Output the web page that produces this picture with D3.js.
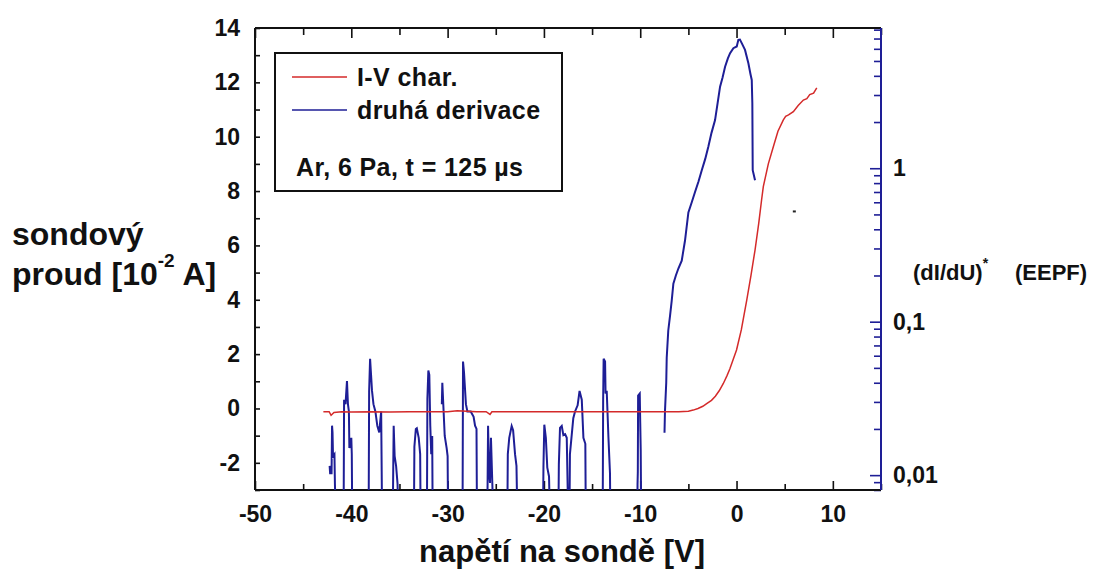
<!DOCTYPE html>
<html>
<head>
<meta charset="utf-8">
<script src="https://cdn.jsdelivr.net/npm/d3@7/dist/d3.min.js"></script>
<style>
  body { margin: 0; background: #fff; }
  text { font-family: "Liberation Sans", Arial, sans-serif; font-weight: bold; fill: #111; }
</style>
</head>
<body>
<svg id="chart"></svg>
<script>
// axis ticks
const voltageTicks = [-50, -40, -30, -20, -10, 0, 10];
const voltageMinorTicks = [-45, -35, -25, -15, -5, 5, 15];
const currentTicks = [-2, 0, 2, 4, 6, 8, 10, 12, 14];
const currentMinorTicks = [-3, -1, 1, 3, 5, 7, 9, 11, 13];
const eepfTicks = [0.01, 0.1, 1];
const eepfTickLabels = ["0,01", "0,1", "1"];
const eepfMinorTicks = [0.008, 0.009, 0.02, 0.03, 0.04, 0.05, 0.06, 0.07, 0.08, 0.09,
  0.2, 0.3, 0.4, 0.5, 0.6, 0.7, 0.8, 0.9, 2, 3, 4, 5, 6, 7, 8];

// I-V characteristic (left axis, 10^-2 A)
const ivVoltage = [-42.9, -42.3, -42.1, -41.8, -41, -40, -38, -36, -34, -32, -30, -29, -28, -27,
  -26, -25.6, -25.4, -24, -20, -15, -10, -6, -5, -4.5, -4, -3.5, -3.1, -2.6, -2.2, -1.8, -1.37,
  -1, -0.7, -0.35, 0, 0.5, 1.06, 1.5, 1.92, 2.3, 2.6, 2.78, 3.3, 3.82, 4.3, 4.86, 5.1, 5.4, 5.9,
  6.4, 6.94, 7.3, 7.6, 8.0, 8.33];
const ivCurrent = [-0.12, -0.12, -0.25, -0.15, -0.12, -0.13, -0.12, -0.13, -0.12, -0.12, -0.12,
  -0.08, -0.1, -0.12, -0.12, -0.22, -0.12, -0.12, -0.12, -0.12, -0.12, -0.12, -0.1, -0.06, 0.0,
  0.08, 0.18, 0.3, 0.45, 0.65, 0.92, 1.2, 1.45, 1.8, 2.15, 2.9, 3.99, 4.9, 5.83, 6.8, 7.67, 8.16,
  9.0, 9.63, 10.2, 10.62, 10.75, 10.8, 10.92, 11.15, 11.35, 11.4, 11.55, 11.6, 11.8];

// second derivative (right axis, log); null = gap, 0.005 = below the axis
const eepfVoltage = [-42.25, -42.2, -42.05, -42.0, -41.95, -41.9, -41.75, -41.7, -41.6,
  -40.8, -40.75, -40.6, -40.45, -40.35, -40.25, -40.2, -40.0, -39.95, -39.9,
  -38.2, -38.15, -38.05, -37.95, -37.85, -37.7, -37.5, -37.3, -37.1, -36.9, -36.8,
  -35.7, -35.6, -35.5, -35.35, -35.2, -35.1,
  -33.5, -33.45, -33.3, -33.2, -33.0, -32.85, -32.8,
  -32.15, -32.1, -32.0, -31.9, -31.8, -31.7, -31.6, -31.55, -31.0,
  -30.6, -30.55, -30.45, -30.3, -30.1, -30.0, -29.95,
  -28.45, -28.4, -28.3, -28.1, -27.95, -27.6, -27.3, -27.15, -27.0, -26.95,
  -25.9, -25.85, -25.8, -25.7, -25.6, -25.5, -25.35, -25.25,
  -23.8, -23.75, -23.6, -23.35, -23.2, -23.0, -22.85, -22.75,
  -20.1, -20.05, -19.96, -19.8, -19.65, -19.47, -19.37,
  -18.5, -18.45, -18.33, -18.15, -17.98, -17.8, -17.63, -17.47,
  -17.35, -17.3, -16.95, -16.77, -16.5, -16.3, -16.07, -15.9, -15.7, -15.65,
  -13.9, -13.85, -13.8, -13.65, -13.6, -13.48, -13.3, -13.14, -13.1,
  -10.3, -10.28, -10.25, -10.22, -10.05, -10.0, -9.95, -9.9, -8.5,
  -7.48, -7.43, -7.3, -7.25, -7.09, -6.9, -6.73, -6.56, -6.3, -6.04, -5.69, -5.35, -5.0,
  -4.65, -4.31, -3.95, -3.61, -3.25, -2.93, -2.6, -2.23, -1.95, -1.71, -1.45, -1.19, -0.9,
  -0.67, -0.33, 0.02, 0.19, 0.35, 0.54, 0.88, 1.23, 1.45, 1.58, 1.64, 1.68, 1.92];
const eepfValue = [0.0115, 0.0103, 0.0103, 0.021, 0.019, 0.0133, 0.0137, 0.0087, 0.005,
  0.005, 0.031, 0.029, 0.041, 0.029, 0.026, 0.015, 0.0175, 0.0137, 0.005,
  0.005, 0.035, 0.0573, 0.045, 0.0354, 0.029, 0.026, 0.021, 0.019, 0.026, 0.005,
  0.005, 0.021, 0.0133, 0.0115, 0.0088, 0.005,
  0.005, 0.0153, 0.020, 0.0202, 0.0175, 0.0137, 0.005,
  0.005, 0.0314, 0.048, 0.045, 0.021, 0.0137, 0.018, 0.005, null,
  0.029, 0.040, 0.029, 0.018, 0.015, 0.0133, 0.005,
  0.005, 0.055, 0.047, 0.029, 0.026, 0.026, 0.024, 0.021, 0.02, 0.005,
  0.005, 0.0087, 0.021, 0.0105, 0.0089, 0.0175, 0.0085, 0.005,
  0.005, 0.0137, 0.0175, 0.0209, 0.0196, 0.0137, 0.0115, 0.005,
  0.005, 0.0112, 0.0213, 0.0175, 0.0112, 0.0098, 0.005,
  0.005, 0.0118, 0.0203, 0.0209, 0.0182, 0.0185, 0.0175, 0.005,
  0.005, 0.0137, 0.0235, 0.026, 0.0285, 0.0354, 0.031, 0.0175, 0.016, 0.005,
  0.005, 0.031, 0.0573, 0.055, 0.034, 0.0354, 0.0175, 0.0103, 0.005,
  0.005, 0.0087, 0.0105, 0.033, 0.034, 0.022, 0.0147, 0.005, null,
  0.0189, 0.0262, 0.040, 0.0582, 0.0873, 0.11, 0.137, 0.177, 0.20, 0.222, 0.25, 0.338, 0.515,
  0.6, 0.70, 0.82, 0.97, 1.15, 1.38, 1.7, 2.06, 2.7, 3.4, 3.9, 4.59, 5.2,
  5.62, 6.06, 6.21, 6.87, 6.9, 6.53, 5.9, 4.83, 4.1, 3.76, 2.65, 0.97, 0.835];

const strayPoint = [6.0, 7.25];

const chartObj = { width: 1101, height: 570, left: 255, top: 28, plotW: 626, plotH: 462 };
const redColor = "#d42a2a";
const blueColor = "#1e1e96";

const svg = d3.select("#chart")
  .attr("width", chartObj.width)
  .attr("height", chartObj.height);

const x = d3.scaleLinear().domain([-50, 15]).range([0, chartObj.plotW]);
const y = d3.scaleLinear().domain([-3, 14]).range([chartObj.plotH, 0]);
const yLog = d3.scaleLog().domain([0.008, 8.2]).range([chartObj.plotH, 0]);

const hyphenFormat = d => String(d); // plain "-" like the original, not the unicode minus

const plot = svg.append("g")
  .attr("transform", `translate(${chartObj.left}, ${chartObj.top})`);

plot.append("clipPath").attr("id", "plot-clip")
  .append("rect")
  .attr("width", chartObj.plotW)
  .attr("height", chartObj.plotH);

const styleAxis = (g, color, fontSize) => {
  g.select(".domain").remove();
  g.selectAll("line").attr("stroke", color).attr("stroke-width", 1.6);
  g.selectAll("text")
    .style("font-size", fontSize + "px")
    .attr("fill", "#111");
};

// bottom axis
plot.append("g")
  .attr("transform", `translate(0, ${chartObj.plotH})`)
  .call(d3.axisBottom(x).tickValues(voltageTicks).tickSize(-9).tickSizeOuter(0).tickPadding(16)
    .tickFormat(hyphenFormat))
  .call(g => styleAxis(g, "#111", 23));
plot.append("g")
  .attr("transform", `translate(0, ${chartObj.plotH})`)
  .call(d3.axisBottom(x).tickValues(voltageMinorTicks).tickSize(-6).tickFormat(""))
  .call(g => styleAxis(g, "#111", 1));

// top axis (ticks only)
plot.append("g")
  .call(d3.axisTop(x).tickValues(voltageTicks).tickSize(-10).tickFormat(""))
  .call(g => styleAxis(g, "#111", 1));
plot.append("g")
  .call(d3.axisTop(x).tickValues(voltageMinorTicks).tickSize(-7).tickFormat(""))
  .call(g => styleAxis(g, "#111", 1));

// left axis
plot.append("g")
  .call(d3.axisLeft(y).tickValues(currentTicks).tickSize(-5).tickPadding(15)
    .tickFormat(hyphenFormat))
  .call(g => styleAxis(g, "#111", 23));
plot.append("g")
  .call(d3.axisLeft(y).tickValues(currentMinorTicks).tickSize(-5).tickFormat(""))
  .call(g => styleAxis(g, "#111", 1));

// right axis (log)
plot.append("g")
  .attr("transform", `translate(${chartObj.plotW}, 0)`)
  .call(d3.axisRight(yLog).tickValues(eepfTicks).tickSize(-11).tickPadding(12)
    .tickFormat((d, i) => eepfTickLabels[i]))
  .call(g => styleAxis(g, blueColor, 23));
plot.append("g")
  .attr("transform", `translate(${chartObj.plotW}, 0)`)
  .call(d3.axisRight(yLog).tickValues(eepfMinorTicks).tickSize(-7).tickFormat(""))
  .call(g => styleAxis(g, blueColor, 1));

// frame
const frame = [
  { x1: 0, y1: chartObj.plotH, x2: chartObj.plotW, y2: chartObj.plotH, c: "#111" },
  { x1: 0, y1: 0, x2: chartObj.plotW, y2: 0, c: "#111" },
  { x1: 0, y1: 0, x2: 0, y2: chartObj.plotH, c: "#111" },
  { x1: chartObj.plotW, y1: 0, x2: chartObj.plotW, y2: chartObj.plotH, c: blueColor },
];
frame.forEach(f => {
  plot.append("line")
    .attr("x1", f.x1).attr("y1", f.y1).attr("x2", f.x2).attr("y2", f.y2)
    .attr("stroke", f.c).attr("stroke-width", 2);
});

// curves
const eepfData = eepfVoltage.map((u, i) => [u, eepfValue[i]]);
const ivData = ivVoltage.map((u, i) => [u, ivCurrent[i]]);

const curves = plot.append("g").attr("clip-path", "url(#plot-clip)");

curves.append("path")
  .datum(eepfData)
  .attr("d", d3.line()
    .defined(d => d[1] !== null)
    .x(d => x(d[0]))
    .y(d => yLog(d[1])))
  .attr("fill", "none")
  .attr("stroke", blueColor)
  .attr("stroke-width", 2);

curves.append("path")
  .datum(ivData)
  .attr("d", d3.line().x(d => x(d[0])).y(d => y(d[1])))
  .attr("fill", "none")
  .attr("stroke", redColor)
  .attr("stroke-width", 1.5);

curves.append("rect")
  .attr("x", x(strayPoint[0]) - 1.5)
  .attr("y", y(strayPoint[1]) - 1)
  .attr("width", 3)
  .attr("height", 2)
  .attr("fill", "#222");

// legend
const legend = svg.append("g");
legend.append("rect")
  .attr("x", 275).attr("y", 53)
  .attr("width", 287).attr("height", 138)
  .attr("fill", "#fff")
  .attr("stroke", "#111")
  .attr("stroke-width", 2);

const legendItems = [
  { label: "I-V char.", color: redColor, y: 77 },
  { label: "druhá derivace", color: blueColor, y: 110 },
];
legendItems.forEach(item => {
  legend.append("line")
    .attr("x1", 292).attr("x2", 347)
    .attr("y1", item.y).attr("y2", item.y)
    .attr("stroke", item.color)
    .attr("stroke-width", 1.6);
  legend.append("text")
    .attr("x", 357).attr("y", item.y + 9)
    .style("font-size", "25px")
    .style("letter-spacing", "0.4px")
    .text(item.label);
});
legend.append("text")
  .attr("x", 296).attr("y", 176)
  .style("font-size", "25px")
  .style("letter-spacing", "0.4px")
  .text("Ar, 6 Pa, t = 125 µs");

// axis titles
svg.append("text")
  .attr("x", 562).attr("y", 562)
  .attr("text-anchor", "middle")
  .style("font-size", "31px")
  .text("napětí na sondě [V]");

svg.append("text")
  .attr("x", 12).attr("y", 245)
  .style("font-size", "32px")
  .text("sondový");

const leftTitle = svg.append("text")
  .attr("x", 12).attr("y", 285)
  .style("font-size", "32px");
leftTitle.append("tspan").text("proud [10");
leftTitle.append("tspan").attr("dy", -18).style("font-size", "19px").text("-2");
leftTitle.append("tspan").attr("dy", 18).text(" A]");

const rightTitle = svg.append("text")
  .attr("x", 913).attr("y", 280)
  .style("font-size", "22px");
rightTitle.append("tspan").text("(dI/dU)");
rightTitle.append("tspan").attr("dy", -12).style("font-size", "14px").text("*");
svg.append("text")
  .attr("x", 1015).attr("y", 280)
  .style("font-size", "22px")
  .text("(EEPF)");
</script>
</body>
</html>
